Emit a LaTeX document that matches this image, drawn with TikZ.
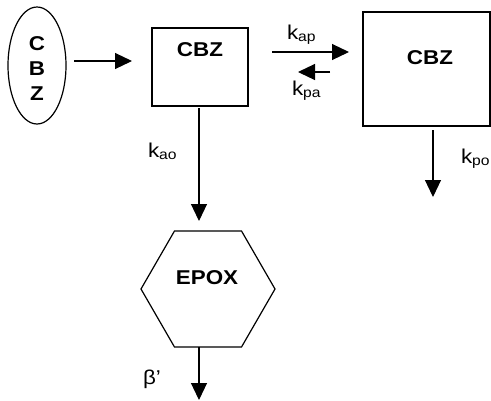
\documentclass[tikz,border=0pt]{standalone}
\usepackage{fontspec}
\setmainfont{Liberation Sans}[FakeStretch=1.12]
\usetikzlibrary{arrows.meta,shapes.geometric}
\newcommand{\ksub}[1]{k\raisebox{-2pt}{\fontsize{14}{14}\selectfont #1}}
\tikzset{
  every node/.style={inner sep=0pt, outer sep=0pt},
  boxnode/.style={draw, line width=1.2pt},
  lbl/.style={font=\fontsize{20}{21}\selectfont, anchor=base west},
  bold/.style={font=\fontsize{20}{25}\selectfont\bfseries},
  arr/.style={line width=1.2pt, -{Triangle[length=17pt,width=16pt]}},
}
\begin{document}
\begin{tikzpicture}[x=1pt,y=-1pt]
\useasboundingbox (0,0) rectangle (491,400);
% shapes
\node[boxnode, ellipse, minimum width=58pt, minimum height=117pt] (ell) at (37,65.5) {};
\node[bold, align=center] (elltext) at (37,69) {C\\B\\Z};
\node[boxnode, minimum width=96pt, minimum height=78pt] (boxa) at (200,67) {};
\node[bold] (boxatext) at (200,50) {CBZ};
\node[boxnode, minimum width=127pt, minimum height=114pt] (boxp) at (426.5,69) {};
\node[bold] (boxptext) at (430,58) {CBZ};
\node[boxnode, regular polygon, regular polygon sides=6, minimum size=134pt] (hex) at (208,289) {};
\node[bold] (hextext) at (207,278) {EPOX};
% coordinates
\coordinate (e1) at (74,61);
\coordinate (e2) at (132,61);
\coordinate (ap1) at (272,52);
\coordinate (ap2) at (349,52);
\coordinate (pa1) at (330,72);
\coordinate (pa2) at (298,72);
\coordinate (ao1) at (199,108);
\coordinate (ao2) at (199,221);
\coordinate (po1) at (433,130);
\coordinate (po2) at (433,197);
\coordinate (b1) at (199,347);
\coordinate (b2) at (199,400);
% connectors
\draw[arr] (e1) -- (e2);
\draw[arr] (ap1) -- (ap2);
\draw[arr] (pa1) -- (pa2);
\draw[arr] (ao1) -- (ao2);
\draw[arr] (po1) -- (po2);
\draw[arr] (b1) -- (b2);
% labels
\node[lbl] (kap) at (287,39) {\ksub{ap}};
\node[lbl] (kpa) at (292,95) {\ksub{pa}};
\node[lbl] (kao) at (148,157) {\ksub{ao}};
\node[lbl] (kpo) at (461,163) {\ksub{po}};
\node[lbl] (beta) at (143,384) {β’};
\end{tikzpicture}
\end{document}
